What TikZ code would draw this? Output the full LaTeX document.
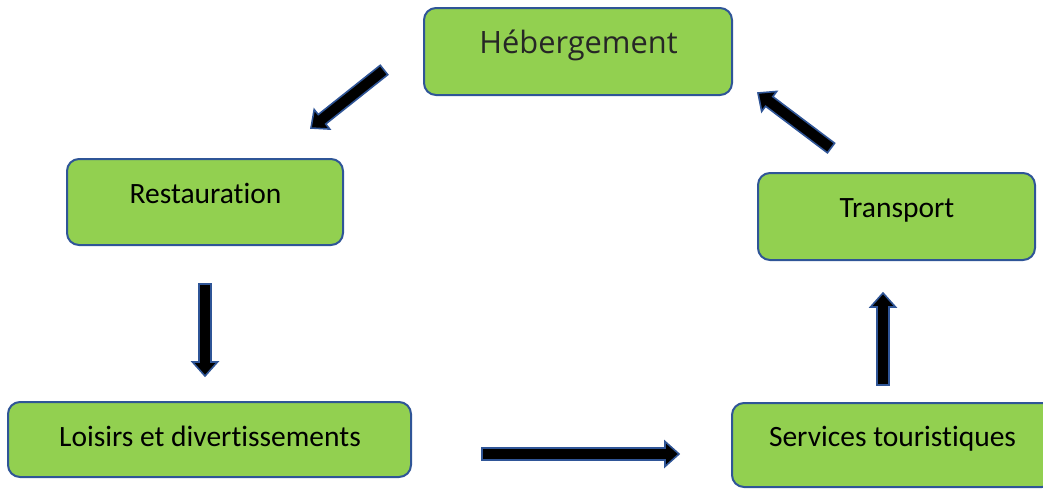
\documentclass[tikz,border=0pt]{standalone}
\usepackage{fontspec}
\setmainfont{Carlito}[Ligatures={NoCommon}]
\newfontfamily\hebfont{Open Sans}
\usetikzlibrary{calc}
\definecolor{boxgreen}{HTML}{92D050}
\definecolor{boxblue}{HTML}{2F5597}
\definecolor{hebtext}{HTML}{262626}
\tikzset{
  box/.style={draw=boxblue, line width=2pt, fill=boxgreen, rounded corners=12pt, inner sep=0pt},
  lbl/.style={anchor=base, inner sep=0pt, font=\fontsize{29.5}{34}\selectfont},
  arrowst/.style={fill=black, draw=boxblue, line width=1.6pt, line join=miter},
}
\newcommand{\blockarr}[2]{%
  \coordinate (hb) at ($(#2)!14pt!(#1)$);
  \filldraw[arrowst] ($(#1)!6pt!90:(#2)$) -- ($(hb)!6pt!90:(#2)$) -- ($(hb)!12.5pt!90:(#2)$) -- (#2) -- ($(hb)!12.5pt!-90:(#2)$) -- ($(hb)!6pt!-90:(#2)$) -- ($(#1)!6pt!-90:(#2)$) -- cycle;}
\begin{document}
\begin{tikzpicture}[x=1pt, y=-1pt]
\useasboundingbox (0,0) rectangle (1043,488);
\clip (0,0) rectangle (1043,488);
% boxes
\node[box, minimum width=308pt, minimum height=87pt] (heb) at (578,51.5) {};
\node[box, minimum width=276pt, minimum height=86pt] (res) at (205,202) {};
\node[box, minimum width=403pt, minimum height=75pt] (loi) at (209.5,439.5) {};
\node[box, minimum width=322pt, minimum height=84pt] (ser) at (893,445) {};
\node[box, minimum width=277pt, minimum height=87pt] (tra) at (896.5,216.5) {};
% labels
\node[lbl, font=\hebfont\fontsize{30.8}{35}\selectfont, text=hebtext] (hebt) at (578.5,53) {Hébergement};
\node[lbl] (rest) at (205.5,203) {Restauration};
\node[lbl] (loit) at (210,446) {Loisirs et divertissements};
\node[lbl] (sert) at (892.5,446) {Services touristiques};
\node[lbl] (trat) at (897,217) {Transport};
% arrow end points
\coordinate (a1s) at (384,70);  \coordinate (a1e) at (311,128);
\coordinate (a2s) at (205,284); \coordinate (a2e) at (205,376);
\coordinate (a3s) at (482,454); \coordinate (a3e) at (679,454);
\coordinate (a4s) at (883,385); \coordinate (a4e) at (883,293);
\coordinate (a5s) at (831,148); \coordinate (a5e) at (758,93);
\blockarr{a1s}{a1e}
\blockarr{a2s}{a2e}
\blockarr{a3s}{a3e}
\blockarr{a4s}{a4e}
\blockarr{a5s}{a5e}
\end{tikzpicture}
\end{document}
